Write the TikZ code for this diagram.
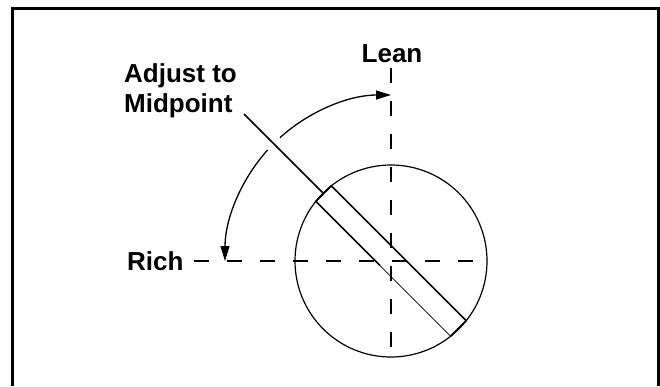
\documentclass[tikz,border=0pt]{standalone}
\usepackage{fontspec}
\setmainfont{Liberation Sans}
\usetikzlibrary{arrows.meta,calc}

\begin{document}
\begin{tikzpicture}[
    x=1pt, y=-1pt,
    >={Triangle[length=15pt,width=9pt]},
    font=\fontsize{26}{30}\selectfont\bfseries,
    txt/.style={inner sep=0pt},
    guide/.style={line width=1.4pt, dash pattern=on 15pt off 18pt},
    slotline/.style={line width=1.6pt},
    swing/.style={line width=1.3pt},
]
\useasboundingbox (0,0) rectangle (660,386);

% === Frame ===
\draw[line width=3pt] (12.5,386) -- (12.5,8.5) -- (658.5,8.5) -- (658.5,386);

% === Dial ===
\coordinate (ctr) at (391,261);
\node[circle, draw, line width=1.2pt, minimum size=192pt, inner sep=0pt] (dial) at (ctr) {};

% === Labels ===
\node[txt, anchor=base] (lean) at (392,62) {Lean};
\node[txt, anchor=base west] (rich) at (127,270) {Rich};
\node[txt, anchor=base west, align=left] (adjust) at (124,112) {Adjust to\\Midpoint};

% === Centre lines ===
\draw[guide] (ctr |- lean.south) ++(0,6) -- (dial.south);
\draw[guide] (rich.east |- ctr) ++(10,0) -- (dial.east);

% === Swing arrow ===
\coordinate (richpt) at ($(ctr)+(-166,0)$);
\coordinate (leanpt) at ($(ctr)+(0,-166)$);
\draw[swing, <-] (richpt) arc[start angle=180, end angle=222, radius=166];
\draw[swing, ->] ($(ctr)+(228:166)$) arc[start angle=228, end angle=270, radius=166];

% === Slot ===
\coordinate (s1) at ($(ctr)+(-59.6,-75.2)$);
\coordinate (s2) at ($(ctr)+(75.2,59.6)$);
\coordinate (s3) at ($(ctr)+(59.6,75.2)$);
\coordinate (s4) at ($(ctr)+(-75.2,-59.6)$);
\coordinate (s5) at ($(ctr)+(-11,4.6)$);
\coordinate (lead) at (244,114);
\draw[slotline] (s2) -- (s1) -- (s4) -- (s5);
\draw[line width=0.7pt] (s5) -- (s3);
\draw[slotline] (s3) -- (s2);
\draw[slotline] (lead) -- ($(s1)!0.5!(s4)$);

\end{tikzpicture}
\end{document}
